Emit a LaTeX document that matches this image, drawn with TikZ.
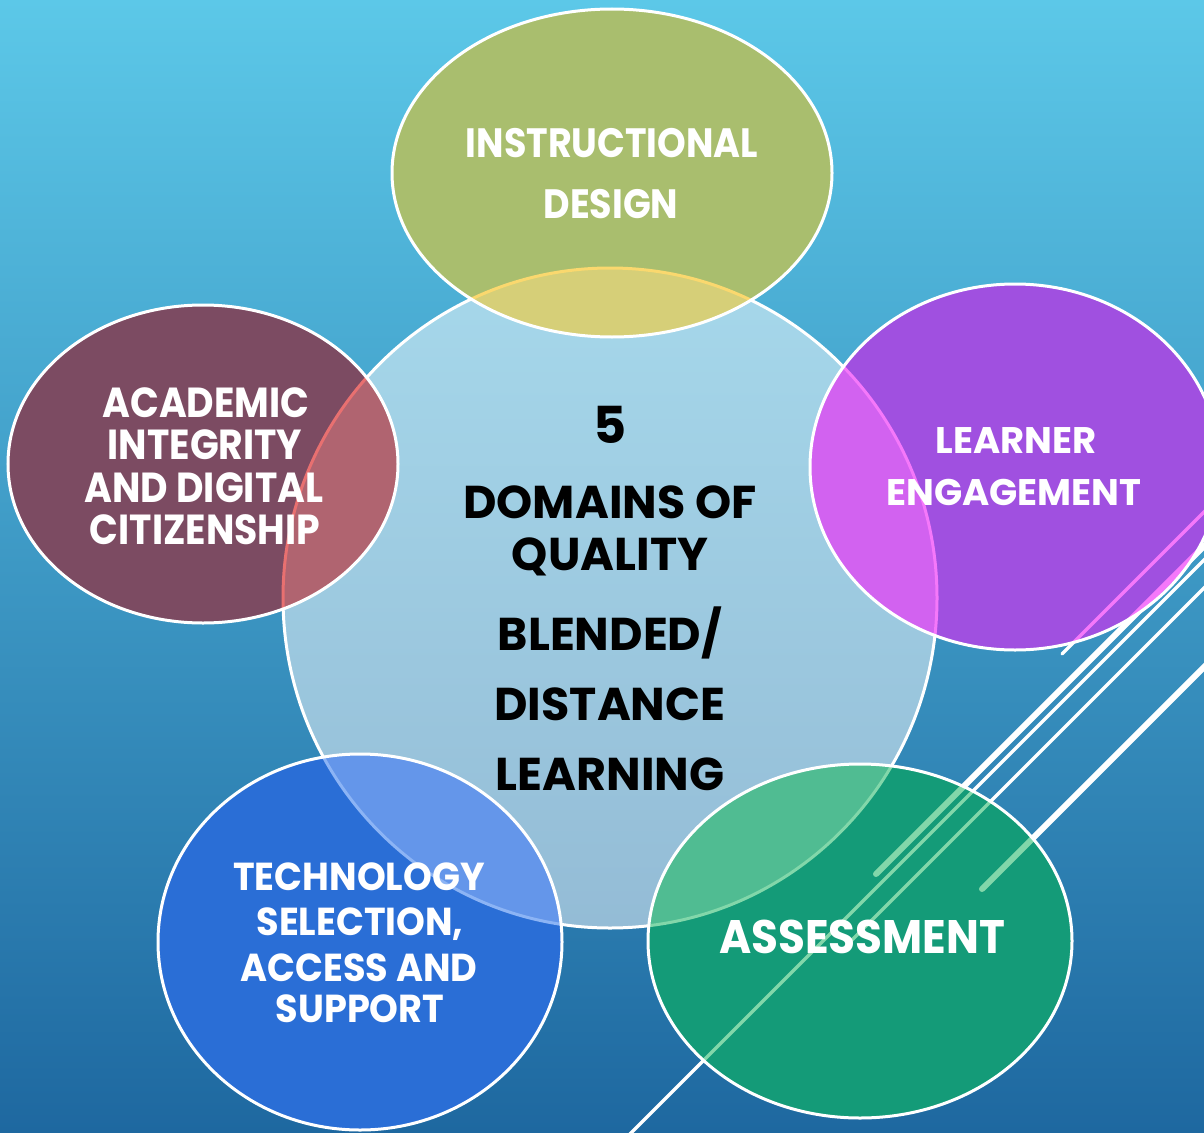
\documentclass[tikz,border=0pt]{standalone}
\usepackage{fontspec}
\setmainfont{Poppins}
\newfontfamily\satA{Poppins}[FakeStretch=0.89]
\newfontfamily\satB{Poppins}[FakeStretch=0.9]
\newfontfamily\satC{Poppins}[FakeStretch=0.94]
\newfontfamily\satD{Poppins}[FakeStretch=0.93]
\definecolor{bgTop}{RGB}{92,200,232}
\definecolor{bgMid}{RGB}{56,152,200}
\definecolor{bgBot}{RGB}{30,104,160}
\definecolor{olive}{RGB}{169,190,110}
\definecolor{oliveOv}{RGB}{214,207,120}
\definecolor{oliveBd}{RGB}{250,216,110}
\definecolor{maroon}{RGB}{124,75,98}
\definecolor{maroonOv}{RGB}{176,100,112}
\definecolor{maroonBd}{RGB}{232,112,112}
\definecolor{purp}{RGB}{160,80,224}
\definecolor{purpOv}{RGB}{210,98,240}
\definecolor{purpBd}{RGB}{245,120,250}
\definecolor{blu}{RGB}{42,110,214}
\definecolor{bluOv}{RGB}{100,150,234}
\definecolor{bluBd}{RGB}{140,180,245}
\definecolor{teal}{RGB}{20,155,120}
\definecolor{tealOv}{RGB}{80,188,146}
\definecolor{tealBd}{RGB}{130,215,170}
\newcommand\decolines[1]{%
  \draw[#1, line width=3.5pt, line cap=round] (1300,416) -- (1062,654);
  \draw[#1, line width=6pt, line cap=round] (1300,450) -- (876,874);
  \draw[#1, line width=3.5pt] (1300,464) -- (600,1164);
  \draw[#1, line width=3.5pt, line cap=round] (1300,492) -- (848,944);
  \draw[#1, line width=6pt, line cap=round] (1300,571) -- (982,889);
}
\tikzset{
  cpath/.style={insert path={(cC) ellipse [x radius=327pt, y radius=330pt]}},
  tpath/.style={insert path={(cT) ellipse [x radius=220pt, y radius=164pt]}},
  lpath/.style={insert path={(cL) ellipse [x radius=195pt, y radius=159pt]}},
  rpath/.style={insert path={(cR) ellipse [x radius=205pt, y radius=183pt]}},
  blpath/.style={insert path={(cBL) ellipse [x radius=202pt, y radius=188pt]}},
  brpath/.style={insert path={(cBR) ellipse [x radius=212pt, y radius=177pt]}},
  rim/.style={draw=white, line width=3pt},
  sattext/.style={anchor=base, inner sep=0pt, text=white},
  ctrtext/.style={anchor=base, inner sep=0pt, text=black, font=\bfseries\fontsize{46}{46}\selectfont},
}
\begin{document}
\begin{tikzpicture}[x=1pt,y=-1pt]
\useasboundingbox (0,0) rectangle (1204,1132);
\coordinate (cC) at (610,598);
\coordinate (cT) at (612,173);
\coordinate (cL) at (203,464);
\coordinate (cR) at (1015,467);
\coordinate (cBL) at (360,942);
\coordinate (cBR) at (860,941);
\begin{scope}
\clip (0,0) rectangle (1204,1132);
\shade[top color=bgTop, middle color=bgMid, bottom color=bgBot] (0,0) rectangle (1204,1132);
\decolines{white}
\fill[white, opacity=0.5, cpath];
\draw[rim, cpath];
% top
\fill[olive, tpath];
\begin{scope}
\clip[tpath];
\fill[oliveOv, cpath];
\draw[oliveBd, line width=3pt, cpath];
\end{scope}
\draw[rim, tpath];
% left
\fill[maroon, lpath];
\begin{scope}
\clip[lpath];
\fill[maroonOv, cpath];
\draw[maroonBd, line width=3pt, cpath];
\end{scope}
\draw[rim, lpath];
% right
\fill[purp, rpath];
\begin{scope}
\clip[rpath];
\fill[purpOv, cpath];
\draw[purpBd, line width=3pt, cpath];
\decolines{purpBd}
\end{scope}
\draw[rim, rpath];
% bottom left
\fill[blu, blpath];
\begin{scope}
\clip[blpath];
\fill[bluOv, cpath];
\draw[bluBd, line width=3pt, cpath];
\end{scope}
\draw[rim, blpath];
% bottom right
\fill[teal, brpath];
\begin{scope}
\clip[brpath];
\fill[tealOv, cpath];
\draw[tealBd, line width=3pt, cpath];
\decolines{tealBd}
\end{scope}
\draw[rim, brpath];
\end{scope}
% centre text
\node[ctrtext, font=\bfseries\fontsize{51}{51}\selectfont] (c0) at (610,443) {5};
\node[ctrtext] (c1) at (610,518) {DOMAINS OF};
\node[ctrtext] (c2) at (610,570) {QUALITY};
\node[ctrtext] (c3) at (610,650) {BLENDED/};
\node[ctrtext] (c4) at (610,720) {DISTANCE};
\node[ctrtext] (c5) at (610,790) {LEARNING};
% top text
\begin{scope}[every node/.style={sattext, font=\satA\bfseries\fontsize{41}{41}\selectfont}]
\node (t1) at (612,157) {INSTRUCTIONAL};
\node (t2) at (611,218) {DESIGN};
\end{scope}
\begin{scope}[every node/.style={sattext, font=\satB\bfseries\fontsize{42}{42}\selectfont}]
\node (l1) at (206,417) {ACADEMIC};
\node (l2) at (205,459) {INTEGRITY};
\node (l3) at (204,502) {AND DIGITAL};
\node (l4) at (205,544) {CITIZENSHIP};
\end{scope}
\begin{scope}[every node/.style={sattext, font=\bfseries\fontsize{37}{37}\selectfont}]
\node (r1) at (1016,453) {LEARNER};
\node (r2) at (1014,505) {ENGAGEMENT};
\end{scope}
\begin{scope}[every node/.style={sattext, font=\satC\bfseries\fontsize{39}{39}\selectfont}]
\node (b1) at (359,890) {TECHNOLOGY};
\node (b2) at (360,935) {SELECTION,};
\node (b3) at (359,981) {ACCESS AND};
\node (b4) at (360,1022) {SUPPORT};
\end{scope}
\node[sattext, font=\satD\bfseries\fontsize{47}{47}\selectfont] (a1) at (862,953) {ASSESSMENT};
\end{tikzpicture}
\end{document}
